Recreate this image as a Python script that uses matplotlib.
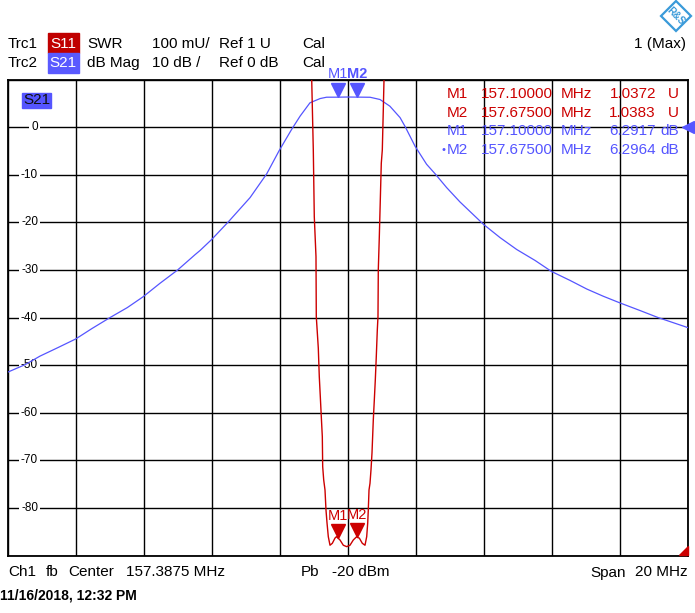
import numpy as np
import matplotlib
matplotlib.use('Agg')
import matplotlib.pyplot as plt
import matplotlib.transforms as mtransforms
from matplotlib.patches import Polygon, Rectangle

plt.rcParams['font.family'] = ['Liberation Sans', 'DejaVu Sans']

W, H = 695, 613

# sweep settings
center = 157.3875
span = 20.0

# Trc2: S21 in dB
s21_freq = [147.38, 147.90, 148.34, 148.87, 149.39, 149.87, 150.40, 150.91, 151.38, 151.87,
            152.39, 152.90, 153.05, 153.39, 153.88, 154.52, 155.01, 155.37, 155.74, 155.99,
            156.28, 156.58, 156.77, 157.10, 157.39, 157.675, 158.05, 158.34, 158.63, 158.93,
            159.08, 159.37, 159.71, 159.96, 160.30, 160.69, 161.38, 161.87, 162.36, 162.90,
            163.38, 163.93, 164.42, 164.90, 165.39, 165.98, 166.52, 167.39]
s21_db = [-51.5, -49.9, -48.1, -46.3, -44.5, -42.3, -40.0, -37.9, -35.6, -32.8,
          -30.0, -26.8, -25.9, -23.6, -19.9, -14.8, -9.8, -5.0, -0.5, 2.3,
          5.1, 6.0, 6.28, 6.29, 6.32, 6.30, 6.27, 5.8, 4.4, 2.0,
          0.1, -4.0, -7.8, -9.8, -12.7, -15.7, -20.4, -23.2, -25.7, -28.0,
          -30.3, -32.2, -34.0, -35.5, -36.9, -38.5, -40.0, -42.1]

# Trc1: S11 as SWR
s11_freq = [156.332, 156.379, 156.408, 156.458, 156.467, 156.526, 156.555, 156.585, 156.614,
            156.644, 156.655, 156.685, 156.723, 156.752, 156.782, 156.820, 156.870, 156.938,
            157.017, 157.060, 157.100, 157.164, 157.261, 157.361, 157.458, 157.555, 157.655,
            157.675, 157.732, 157.820, 157.899, 157.949, 157.979, 157.996, 158.017, 158.046,
            158.075, 158.105, 158.143, 158.173, 158.202, 158.231, 158.261, 158.281, 158.290,
            158.320, 158.349, 158.378, 158.408, 158.437, 158.458]
s11_swr = [2.000, 1.852, 1.712, 1.628, 1.502, 1.436, 1.376, 1.334, 1.292,
           1.250, 1.187, 1.159, 1.138, 1.096, 1.069, 1.040, 1.022, 1.026,
           1.037, 1.040, 1.0372, 1.033, 1.022, 1.019, 1.022, 1.033, 1.040,
           1.0383, 1.037, 1.026, 1.022, 1.040, 1.069, 1.096, 1.138, 1.152,
           1.180, 1.216, 1.285, 1.327, 1.369, 1.418, 1.474, 1.502, 1.600,
           1.670, 1.747, 1.824, 1.852, 1.936, 2.000]

# markers
mk_freq = [157.1, 157.675]
mk_swr = [1.0372, 1.0383]
mk_db = [6.2917, 6.2964]

dbticks = [0, -10, -20, -30, -40, -50, -60, -70, -80]

BLUE = '#5555ff'
RED = '#cc0000'
LOGO = '#3a9ad9'


def fx(x):
    return x / W


def fy(y):
    return 1 - y / H


def main():
    fig = plt.figure(figsize=(W / 100, H / 100), dpi=100)
    ax = fig.add_axes([fx(7.5), fy(555.7), 680.2 / W, 476.2 / H])
    f0 = center - span / 2
    ax.set_xlim(f0, f0 + span)
    ax.set_ylim(-90, 10)
    ax.set_xticks(np.arange(f0, f0 + span + 0.01, 2))
    ax.set_yticks(np.arange(-90, 10.1, 10))
    ax.tick_params(length=0, labelleft=False, labelbottom=False)
    ax.grid(True, color='black', lw=1.0)
    for s in ax.spines.values():
        s.set_linewidth(1.3)

    blend = mtransforms.blended_transform_factory(ax.transAxes, ax.transData)
    for v in dbticks:
        ax.text(0.045, v, str(v), transform=blend, ha='right', va='center', fontsize=8.5,
                zorder=2.2, bbox=dict(boxstyle='square,pad=0.2', fc='white', ec='none'))

    ax.plot(s21_freq, s21_db, color=BLUE, lw=0.9, zorder=4)

    ax2 = ax.twinx()
    ax2.set_ylim(1.0, 2.0)
    ax2.set_yticks([])
    for s in ax2.spines.values():
        s.set_visible(False)
    ax2.plot(s11_freq, s11_swr, color=RED, lw=1.0, zorder=4)

    # marker symbols
    tri_b = mtransforms.offset_copy(ax.transData, fig=fig, x=0, y=7, units='dots')
    lab_b = mtransforms.offset_copy(ax.transData, fig=fig, x=0, y=23, units='dots')
    ax.plot(mk_freq, mk_db, 'v', ms=10, color=BLUE, transform=tri_b, clip_on=False, zorder=5)
    for i, (f, d) in enumerate(zip(mk_freq, mk_db)):
        ax.text(f, d, 'M%d' % (i + 1), transform=lab_b, ha='center', va='center',
                fontsize=10.5, color=BLUE, fontweight='bold' if i == 1 else 'normal', clip_on=False)

    tri_r = mtransforms.offset_copy(ax2.transData, fig=fig, x=0, y=7, units='dots')
    lab_r = mtransforms.offset_copy(ax2.transData, fig=fig, x=0, y=22, units='dots')
    ax2.plot(mk_freq, mk_swr, 'v', ms=10, color=RED, transform=tri_r, zorder=5)
    for i, (f, s) in enumerate(zip(mk_freq, mk_swr)):
        ax2.text(f, s, 'M%d' % (i + 1), transform=lab_r, ha='center', va='center',
                 fontsize=10.5, color=RED)

    # reference position arrows
    ax.plot([1.0], [0], '<', ms=9, color=BLUE, transform=blend, clip_on=False, zorder=6)
    fig.patches.append(Polygon([(fx(679), fy(555)), (fx(688), fy(555)), (fx(688), fy(546))],
                               closed=True, color=RED, transform=fig.transFigure))

    # S21 label inside the diagram
    fig.patches.append(Rectangle((fx(22), fy(108)), 29 / W, 15 / H, color=BLUE,
                                 transform=fig.transFigure, zorder=5))
    fig.text(fx(36.5), fy(100.5), 'S21', ha='center', va='center', fontsize=11, color='#101010',
             zorder=6)

    # header
    fs = 11
    fig.patches.append(Rectangle((fx(47.7), fy(53)), 31.3 / W, 20 / H, color='#c00000',
                                 transform=fig.transFigure))
    fig.patches.append(Rectangle((fx(47.7), fy(73)), 31.3 / W, 20 / H, color='#5a5aff',
                                 transform=fig.transFigure))
    row1 = [(8, 'Trc1'), (87, 'SWR'), (152, '100 mU/'), (219, 'Ref 1 U'), (302, 'Cal')]
    row2 = [(8, 'Trc2'), (87, 'dB Mag'), (152, '10 dB /'), (219, 'Ref 0 dB'), (302, 'Cal')]
    for x, t in row1:
        fig.text(fx(x), fy(44), t, ha='left', va='center', fontsize=fs)
    for x, t in row2:
        fig.text(fx(x), fy(63), t, ha='left', va='center', fontsize=fs)
    fig.text(fx(63.3), fy(44), 'S11', ha='center', va='center', fontsize=fs, color='white')
    fig.text(fx(63.3), fy(63), 'S21', ha='center', va='center', fontsize=fs, color='white')
    fig.text(fx(686), fy(44), '1 (Max)', ha='right', va='center', fontsize=fs)

    # R&S logo
    cx, cy, r = 676, 16, 15
    fig.patches.append(Polygon([(fx(cx), fy(cy - r)), (fx(cx + r), fy(cy)), (fx(cx), fy(cy + r)),
                                (fx(cx - r), fy(cy))], closed=True, fill=False, ec=LOGO, lw=1.6,
                               transform=fig.transFigure))
    fig.text(fx(cx), fy(cy), 'R&S', ha='center', va='center', fontsize=7, color=LOGO,
             rotation=-45, fontweight='bold')

    # marker readout
    rows = [('M1', 157.1, '1.0372', 'U', RED), ('M2', 157.675, '1.0383', 'U', RED),
            ('M1', 157.1, '6.2917', 'dB', BLUE), ('M2', 157.675, '6.2964', 'dB', BLUE)]
    for k, (m, f, v, u, c) in enumerate(rows):
        y = 94 + k * 18.7
        fig.text(fx(446.7), fy(y), m, ha='left', va='center', fontsize=fs, color=c)
        fig.text(fx(481), fy(y), '%.5f' % f, ha='left', va='center', fontsize=fs, color=c)
        fig.text(fx(561), fy(y), 'MHz', ha='left', va='center', fontsize=fs, color=c)
        fig.text(fx(656), fy(y), v, ha='right', va='center', fontsize=fs, color=c)
        fig.text(fx(679), fy(y), u, ha='right', va='center', fontsize=fs, color=c)
    fig.text(fx(444), fy(94 + 3 * 18.7), '\u2022', ha='center', va='center', fontsize=8, color=BLUE)

    # footer
    fig.text(fx(8), fy(572.5), 'Ch1', ha='left', va='center', fontsize=fs)
    fig.text(fx(46), fy(572.5), 'fb', ha='left', va='center', fontsize=fs)
    fig.text(fx(68), fy(572.5), 'Center', ha='left', va='center', fontsize=fs)
    fig.text(fx(126), fy(572.5), '%.4f MHz' % center, ha='left', va='center', fontsize=fs)
    fig.text(fx(300.5), fy(572.5), 'Pb', ha='left', va='center', fontsize=fs)
    fig.text(fx(332.5), fy(572.5), '-20 dBm', ha='left', va='center', fontsize=fs)
    fig.text(fx(590), fy(572.5), 'Span', ha='left', va='center', fontsize=fs)
    fig.text(fx(688), fy(572.5), '%d MHz' % span, ha='right', va='center', fontsize=fs)
    fig.text(fx(0), fy(596), '11/16/2018, 12:32 PM', ha='left', va='center', fontsize=10,
             fontweight='bold', family=['Liberation Sans Narrow', 'Liberation Sans'])

    fig.savefig('out.png', dpi=100)


if __name__ == '__main__':
    main()
